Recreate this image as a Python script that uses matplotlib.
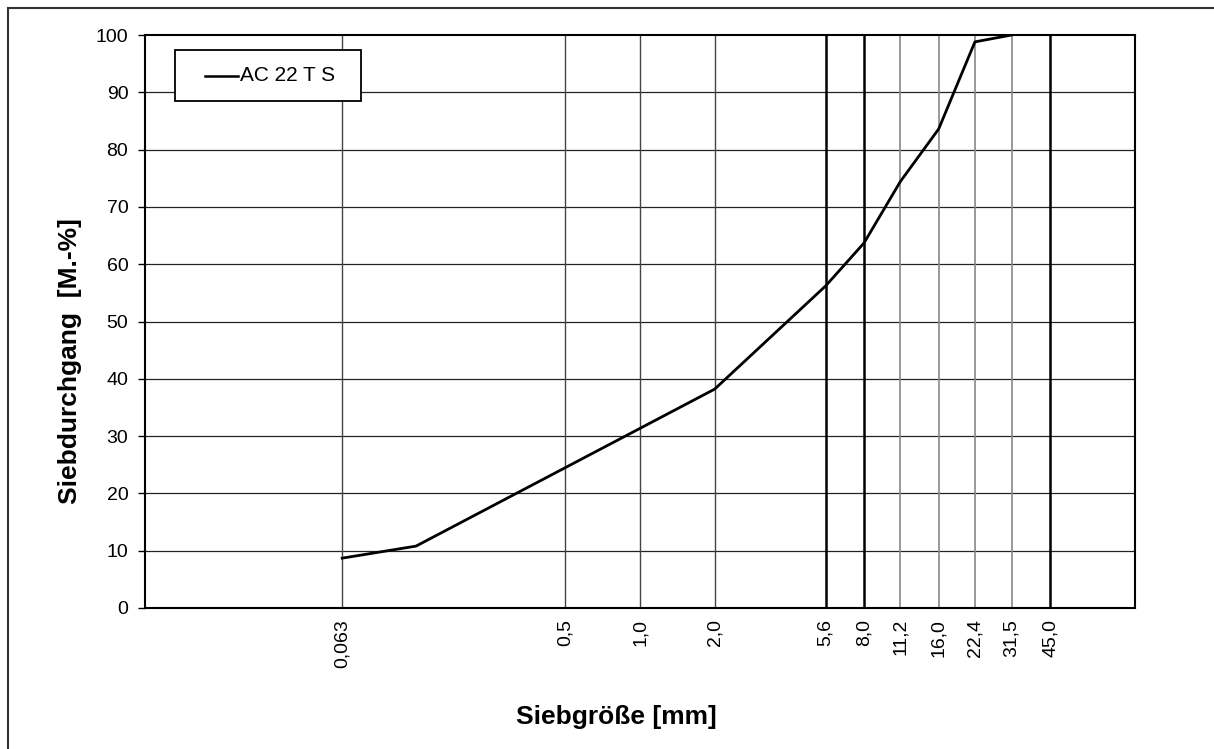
import matplotlib.pyplot as plt
from matplotlib.lines import Line2D
from matplotlib.patches import Rectangle

plt.rcParams['font.family'] = ['Liberation Sans', 'DejaVu Sans']

# sieve sizes on the x axis and their labels
sieves = [0.063, 0.5, 1.0, 2.0, 5.6, 8.0, 11.2, 16.0, 22.4, 31.5, 45.0]
sieve_labels = ['0,063', '0,5', '1,0', '2,0', '5,6', '8,0', '11,2', '16,0', '22,4', '31,5', '45,0']
bold_sieves = [5.6, 8.0, 45.0]
light_sieves = [11.2, 16.0, 22.4, 31.5]

# grading curve AC 22 T S
series_name = 'AC 22 T S'
size = [0.063, 0.125, 2.0, 5.6, 8.0, 11.2, 16.0, 22.4, 31.5]
passing = [8.7, 10.8, 38.2, 56.2, 63.7, 74.4, 83.6, 98.8, 100.0]

W, H = 1214, 749
fig = plt.figure(figsize=(W / 100, H / 100), dpi=100)
ax = fig.add_axes([145 / W, 1 - 608 / H, 990 / W, 573 / H])

ax.set_xscale('log')
ax.set_xlim(0.0101, 99)
ax.set_ylim(0, 100)

for y in range(10, 100, 10):
    ax.axhline(y, color='#222222', lw=0.9, zorder=1)
for s in sieves:
    if s in bold_sieves:
        ax.axvline(s, color='black', lw=1.8, zorder=1)
    elif s in light_sieves:
        ax.axvline(s, color='#888888', lw=1.2, zorder=1)
    else:
        ax.axvline(s, color='#444444', lw=1.0, zorder=1)

ax.plot(size, passing, color='black', lw=2.0, zorder=3)

ax.set_xticks(sieves)
ax.set_xticklabels(sieve_labels, rotation=90, fontsize=14)
ax.xaxis.set_minor_locator(plt.NullLocator())
ax.tick_params(axis='x', length=0, pad=8)
ax.set_yticks(range(0, 101, 10))
ax.tick_params(axis='y', labelsize=14, length=5, width=1, direction='out', pad=7)

for sp in ax.spines.values():
    sp.set_linewidth(1.5)

fig.text(70 / W, 1 - 218 / H, 'Siebdurchgang  [M.-%]', fontsize=19, fontweight='bold',
         rotation=90, ha='center', va='top')
fig.text(616 / W, 1 - 717 / H, 'Siebgröße [mm]', fontsize=19, fontweight='bold',
         ha='center', va='center')

# legend box drawn by hand to match the padding of the original
fig.add_artist(Rectangle((175 / W, 1 - 101 / H), 186 / W, 51 / H, facecolor='white',
                         edgecolor='black', lw=1.3, transform=fig.transFigure, zorder=5))
fig.add_artist(Line2D([205 / W, 238 / W], [1 - 75.5 / H, 1 - 75.5 / H], color='black',
                      lw=1.8, zorder=6))
fig.text(240 / W, 1 - 75.5 / H, series_name, fontsize=15, ha='left', va='center', zorder=6)

# outer frame of the figure
fig.add_artist(Line2D([8 / W, 8 / W], [0, 1 - 8 / H], color='#333333', lw=1.5))
fig.add_artist(Line2D([8 / W, 1], [1 - 8 / H, 1 - 8 / H], color='#333333', lw=1.5))

fig.savefig('out.png', dpi=100)
